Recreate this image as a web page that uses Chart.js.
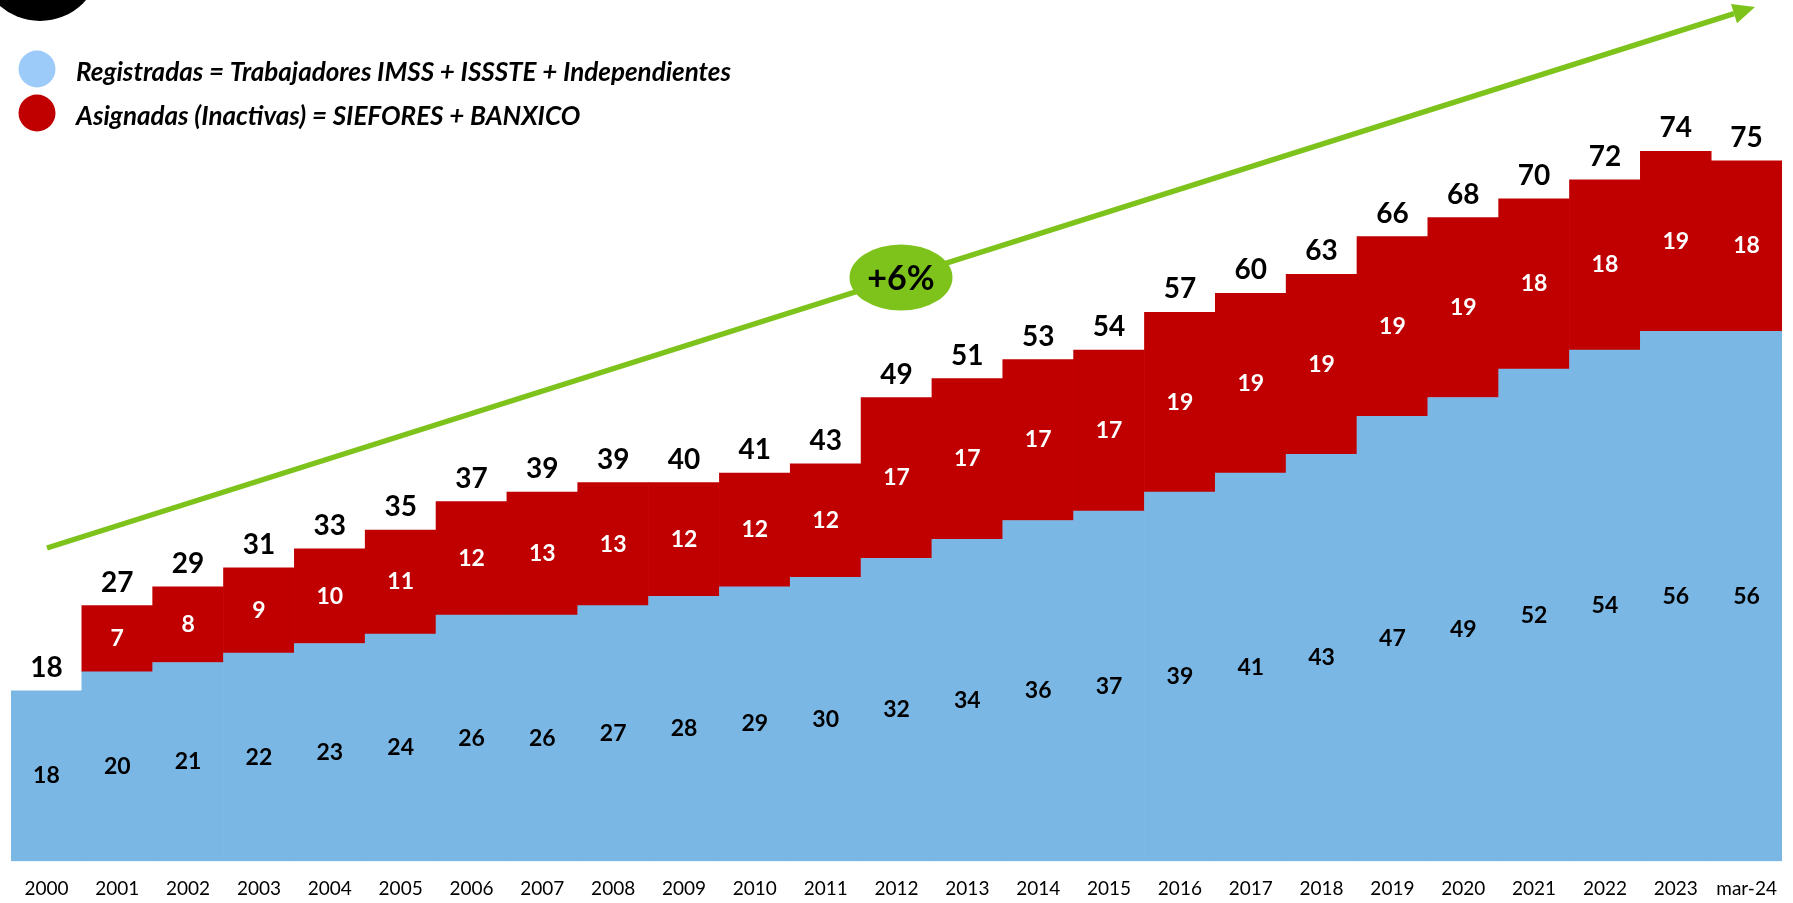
<!DOCTYPE html>
<html lang="es">
<head>
<meta charset="utf-8">
<title>Cuentas administradas por las AFORES</title>
<script src="https://cdn.jsdelivr.net/npm/chart.js@4.4.1/dist/chart.umd.min.js"></script>
<style>
    html, body { margin: 0; padding: 0; background: #fff; }
    #wrap { position: relative; width: 1793px; height: 903px; }
</style>
</head>
<body>
<div id="wrap"><canvas id="cuentasChart"></canvas></div>
<script>
// --- DATOS (millones de cuentas) ---
const years = ['2000', '2001', '2002', '2003', '2004', '2005', '2006', '2007', '2008', '2009',
    '2010', '2011', '2012', '2013', '2014', '2015', '2016', '2017', '2018', '2019',
    '2020', '2021', '2022', '2023', 'mar-24'];
const registradas = [18, 20, 21, 22, 23, 24, 26, 26, 27, 28, 29, 30, 32, 34, 36, 37, 39, 41, 43, 47, 49, 52, 54, 56, 56];
const asignadas = [null, 7, 8, 9, 10, 11, 12, 13, 13, 12, 12, 12, 17, 17, 17, 17, 19, 19, 19, 19, 19, 18, 18, 19, 18];
const totales = [18, 27, 29, 31, 33, 35, 37, 39, 39, 40, 41, 43, 49, 51, 53, 54, 57, 60, 63, 66, 68, 70, 72, 74, 75];

const legendItems = [
    { text: 'Registradas = Trabajadores IMSS + ISSSTE + Independientes', color: '#9CCBFA' },
    { text: 'Asignadas (Inactivas) = SIEFORES + BANXICO', color: '#C00000' }
];
const crecimiento = '+6%';

const AZUL = '#7AB7E5';
const ROJO = '#C00000';
const VERDE = '#7EC31B';
const FONT = 'Lato, "Open Sans", sans-serif';

// Etiquetas dentro de cada segmento y total encima de la barra
const labelsPlugin = {
    id: 'barLabels',
    afterDatasetsDraw(chart) {
        const ctx = chart.ctx;
        ctx.save();
        ctx.textAlign = 'center';
        ctx.textBaseline = 'middle';

        const blue = chart.getDatasetMeta(0).data;
        const red = chart.getDatasetMeta(1).data;

        ctx.font = 'bold 23px ' + FONT;
        blue.forEach((bar, i) => {
            ctx.fillStyle = '#000';
            ctx.fillText(registradas[i], bar.x, (bar.y + bar.base) / 2);
        });
        red.forEach((bar, i) => {
            if (asignadas[i] == null) return;
            ctx.fillStyle = '#fff';
            ctx.fillText(asignadas[i], bar.x, (bar.y + bar.base) / 2);
        });

        // totales
        ctx.font = 'bold 28px ' + FONT;
        ctx.fillStyle = '#000';
        blue.forEach((bar, i) => {
            const top = asignadas[i] == null ? bar.y : red[i].y;
            ctx.fillText(totales[i], bar.x, top - 23);
        });
        ctx.restore();
    }
};

// Flecha de tendencia, leyenda y decoración
const decorPlugin = {
    id: 'decor',
    afterDraw(chart) {
        const ctx = chart.ctx;
        ctx.save();

        // círculo negro cortado (esquina)
        ctx.fillStyle = '#000';
        ctx.beginPath();
        ctx.arc(40, -40, 61, 0, Math.PI * 2);
        ctx.fill();

        // leyenda
        legendItems.forEach((item, i) => {
            const cy = 69 + i * 44;
            ctx.fillStyle = item.color;
            ctx.beginPath();
            ctx.arc(37, cy, 18.5, 0, Math.PI * 2);
            ctx.fill();
            ctx.fillStyle = '#000';
            ctx.font = 'italic bold 26px ' + FONT;
            ctx.textAlign = 'left';
            ctx.textBaseline = 'middle';
            ctx.fillText(item.text, 76, cy + 4);
        });

        // flecha verde
        const x0 = 47, y0 = 548, x1 = 1755, y1 = 7;
        const ang = Math.atan2(y1 - y0, x1 - x0);
        const headLen = 22, headW = 10;
        const bx = x1 - headLen * Math.cos(ang), by = y1 - headLen * Math.sin(ang);
        ctx.strokeStyle = VERDE;
        ctx.lineWidth = 5.5;
        ctx.beginPath();
        ctx.moveTo(x0, y0);
        ctx.lineTo(bx, by);
        ctx.stroke();
        ctx.fillStyle = VERDE;
        ctx.beginPath();
        ctx.moveTo(x1, y1);
        ctx.lineTo(bx + headW * Math.sin(ang), by - headW * Math.cos(ang));
        ctx.lineTo(bx - headW * Math.sin(ang), by + headW * Math.cos(ang));
        ctx.closePath();
        ctx.fill();

        // óvalo +6%
        ctx.beginPath();
        ctx.ellipse(901, 277.5, 51.5, 33, 0, 0, Math.PI * 2);
        ctx.fill();
        ctx.fillStyle = '#000';
        ctx.font = 'bold 34px ' + FONT;
        ctx.textAlign = 'center';
        ctx.textBaseline = 'middle';
        ctx.fillText(crecimiento, 901, 279);

        ctx.restore();
    }
};

new Chart(document.getElementById('cuentasChart'), {
    type: 'bar',
    data: {
        labels: years,
        datasets: [
            {
                label: 'Registradas',
                data: registradas,
                backgroundColor: AZUL,
                borderWidth: 0,
                barPercentage: 1,
                categoryPercentage: 1
            },
            {
                label: 'Asignadas',
                data: asignadas,
                backgroundColor: ROJO,
                borderWidth: 0,
                barPercentage: 1,
                categoryPercentage: 1
            }
        ]
    },
    options: {
        responsive: true,
        maintainAspectRatio: false,
        animation: false,
        layout: { padding: { left: 11, right: 2, top: 0, bottom: -13 } },
        plugins: {
            legend: { display: false },
            tooltip: { enabled: false }
        },
        scales: {
            x: {
                stacked: true,
                grid: { display: false, drawTicks: false },
                border: { display: false },
                ticks: {
                    color: '#000',
                    font: { family: FONT, size: 19 },
                    padding: 16,
                    maxRotation: 0,
                    autoSkip: false
                }
            },
            y: {
                stacked: true,
                display: false,
                min: 0,
                max: 91
            }
        }
    },
    plugins: [labelsPlugin, decorPlugin]
});
</script>
</body>
</html>
